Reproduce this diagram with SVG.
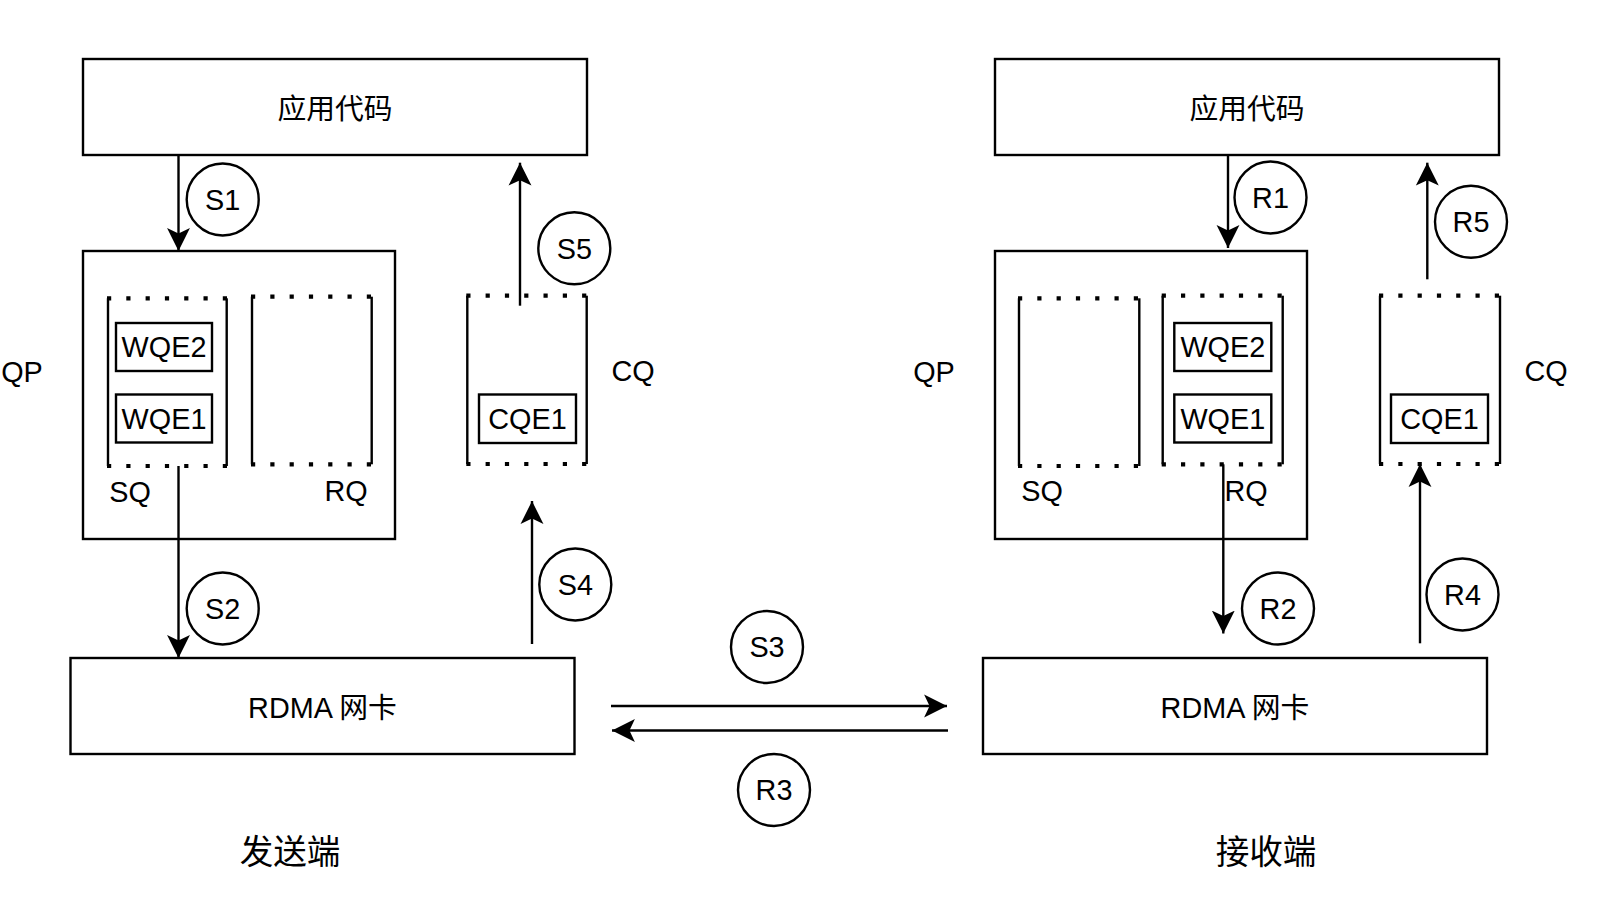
<svg xmlns="http://www.w3.org/2000/svg" width="1602" height="922" viewBox="0 0 1602 922">
<style>
  .box{fill:#fff;stroke:#000;stroke-width:2.4}
  .ibox{fill:#fff;stroke:#000;stroke-width:2.4}
  .dot{fill:none;stroke:#000;stroke-width:4.2;stroke-dasharray:4.2 15.1}
  .side{fill:none;stroke:#000;stroke-width:2.4}
  .circ{fill:#fff;stroke:#000;stroke-width:2.4}
  .edge{fill:none;stroke:#000;stroke-width:2.4;marker-end:url(#arr)}
  text{font-family:"Liberation Sans","Noto Sans CJK SC",Arial,sans-serif;font-size:28.8px;fill:#000;text-anchor:middle}
  .big{font-size:33.6px}
</style>
<defs>
  <marker id="arr" markerUnits="userSpaceOnUse" markerWidth="24" markerHeight="24" viewBox="0 -11 22 22" refX="21" refY="0" orient="auto">
    <path d="M21,0 L0,-10.5 L5,0 L0,10.5 Z" fill="#000"/>
  </marker>
</defs>
<rect width="1602" height="922" fill="#fff"/>

<!-- Sender -->
<g id="s-app"><rect class="box" x="83" y="59" width="504" height="96"/><text x="335" y="118.5">应用代码</text></g>
<g id="s-qp">
  <rect class="box" x="83" y="251" width="312" height="288"/>
  <text x="22" y="381.7">QP</text>
</g>
<g id="s-sq">
  <line class="dot" x1="107" y1="298.3" x2="228" y2="298.3"/>
  <line class="dot" x1="107" y1="466" x2="228" y2="466"/>
  <line class="side" x1="108" y1="298.3" x2="108" y2="466"/>
  <line class="side" x1="226.7" y1="298.3" x2="226.7" y2="466"/>
  <text x="130" y="502">SQ</text>
</g>
<g id="s-wqe2"><rect class="ibox" x="116" y="323" width="96" height="48"/><text x="164" y="357.3">WQE2</text></g>
<g id="s-wqe1"><rect class="ibox" x="116" y="394.5" width="96" height="48"/><text x="164" y="428.8">WQE1</text></g>
<g id="s-rq">
  <line class="dot" x1="251" y1="296.7" x2="372" y2="296.7"/>
  <line class="dot" x1="251" y1="464.3" x2="372" y2="464.3"/>
  <line class="side" x1="252" y1="296.7" x2="252" y2="464.3"/>
  <line class="side" x1="371.7" y1="296.7" x2="371.7" y2="464.3"/>
  <text x="346" y="501">RQ</text>
</g>
<g id="s-cq">
  <line class="dot" x1="466.3" y1="295.7" x2="587.3" y2="295.7"/>
  <line class="dot" x1="466.3" y1="464" x2="587.3" y2="464"/>
  <line class="side" x1="467.3" y1="295.7" x2="467.3" y2="464"/>
  <line class="side" x1="586.7" y1="295.7" x2="586.7" y2="464"/>
  <text x="633" y="380.5">CQ</text>
</g>
<g id="s-cqe1"><rect class="ibox" x="479" y="394.5" width="97" height="48.5"/><text x="527.5" y="429">CQE1</text></g>
<g id="s-nic"><rect class="box" x="70.5" y="658" width="504" height="96"/><text x="322.5" y="718.3">RDMA 网卡</text></g>
<g id="s-label"><text class="big" x="290" y="863.8">发送端</text></g>

<!-- Receiver -->
<g id="r-app"><rect class="box" x="995" y="59" width="504" height="96"/><text x="1247" y="118.5">应用代码</text></g>
<g id="r-qp">
  <rect class="box" x="995" y="251" width="312" height="288"/>
  <text x="934" y="381.7">QP</text>
</g>
<g id="r-sq">
  <line class="dot" x1="1018" y1="298.3" x2="1139.5" y2="298.3"/>
  <line class="dot" x1="1018" y1="466" x2="1139.5" y2="466"/>
  <line class="side" x1="1019" y1="298.3" x2="1019" y2="466"/>
  <line class="side" x1="1139.3" y1="298.3" x2="1139.3" y2="466"/>
  <text x="1042" y="501">SQ</text>
</g>
<g id="r-rq">
  <line class="dot" x1="1161.7" y1="295.7" x2="1283" y2="295.7"/>
  <line class="dot" x1="1161.7" y1="464.3" x2="1283" y2="464.3"/>
  <line class="side" x1="1162.7" y1="295.7" x2="1162.7" y2="464.3"/>
  <line class="side" x1="1282.7" y1="295.7" x2="1282.7" y2="464.3"/>
  <text x="1246" y="501">RQ</text>
</g>
<g id="r-wqe2"><rect class="ibox" x="1174.3" y="323" width="97" height="48"/><text x="1222.8" y="357.3">WQE2</text></g>
<g id="r-wqe1"><rect class="ibox" x="1174.3" y="394.5" width="97" height="48"/><text x="1222.8" y="428.8">WQE1</text></g>
<g id="r-cq">
  <line class="dot" x1="1379" y1="295.7" x2="1500.5" y2="295.7"/>
  <line class="dot" x1="1379" y1="464" x2="1500.5" y2="464"/>
  <line class="side" x1="1380" y1="295.7" x2="1380" y2="464"/>
  <line class="side" x1="1500" y1="295.7" x2="1500" y2="464"/>
  <text x="1546" y="380.7">CQ</text>
</g>
<g id="r-cqe1"><rect class="ibox" x="1391" y="394.5" width="97" height="48.5"/><text x="1439.5" y="429">CQE1</text></g>
<g id="r-nic"><rect class="box" x="983" y="658" width="504" height="96"/><text x="1235" y="718.3">RDMA 网卡</text></g>
<g id="r-label"><text class="big" x="1266" y="863.8">接收端</text></g>

<!-- Connectors -->
<g id="connectors">
  <line class="edge" x1="178.5" y1="155" x2="178.5" y2="251"/>
  <line class="edge" x1="178.5" y1="466" x2="178.5" y2="658"/>
  <line class="edge" x1="532" y1="644" x2="532" y2="501"/>
  <line class="edge" x1="520" y1="305.7" x2="520" y2="162.7"/>
  <line class="edge" x1="611" y1="706" x2="947" y2="706"/>
  <line class="edge" x1="948" y1="730.5" x2="612" y2="730.5"/>
  <line class="edge" x1="1228" y1="155" x2="1228" y2="248"/>
  <line class="edge" x1="1223.3" y1="464.3" x2="1223.3" y2="633.5"/>
  <line class="edge" x1="1420" y1="643.3" x2="1420" y2="464"/>
  <line class="edge" x1="1427.3" y1="279.3" x2="1427.3" y2="162.7"/>
</g>

<!-- Step markers -->
<g id="step-S1"><circle class="circ" cx="222.7" cy="199.5" r="36"/><text x="222.7" y="209.8">S1</text></g>
<g id="step-S2"><circle class="circ" cx="222.7" cy="608.5" r="36"/><text x="222.7" y="618.8">S2</text></g>
<g id="step-S3"><circle class="circ" cx="767" cy="647" r="36"/><text x="767" y="657.3">S3</text></g>
<g id="step-S4"><circle class="circ" cx="575.3" cy="584.5" r="36"/><text x="575.3" y="594.8">S4</text></g>
<g id="step-S5"><circle class="circ" cx="574.3" cy="248.3" r="36"/><text x="574.3" y="258.6">S5</text></g>
<g id="step-R1"><circle class="circ" cx="1270.5" cy="197.5" r="36"/><text x="1270.5" y="207.8">R1</text></g>
<g id="step-R2"><circle class="circ" cx="1278" cy="608.5" r="36"/><text x="1278" y="618.8">R2</text></g>
<g id="step-R3"><circle class="circ" cx="774" cy="790" r="36"/><text x="774" y="800.3">R3</text></g>
<g id="step-R4"><circle class="circ" cx="1462.5" cy="594.5" r="36"/><text x="1462.5" y="604.8">R4</text></g>
<g id="step-R5"><circle class="circ" cx="1471" cy="221.7" r="36"/><text x="1471" y="232">R5</text></g>
</svg>
